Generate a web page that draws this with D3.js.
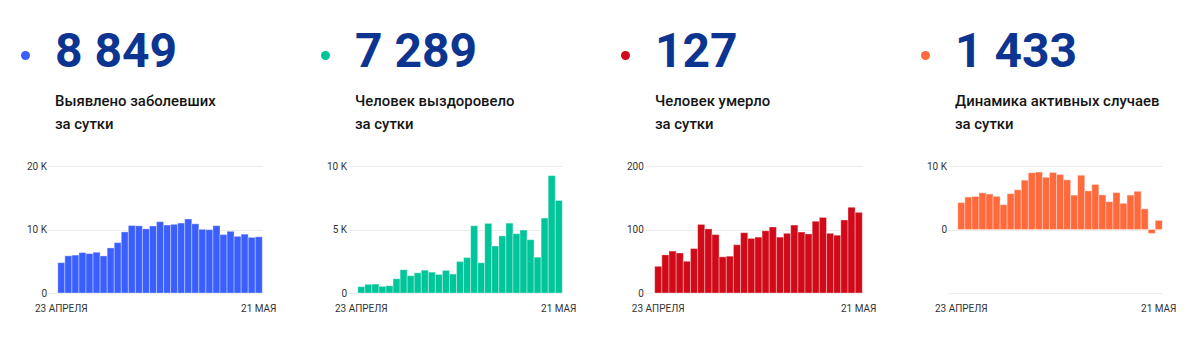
<!DOCTYPE html>
<html><head><meta charset="utf-8">
<script src="https://cdn.jsdelivr.net/npm/d3@7"></script>
<style>
html,body{margin:0;padding:0;background:#fff;}
svg{display:block;font-family:Roboto, "Noto Sans", sans-serif;}
</style></head>
<body><svg id="c" width="1200" height="340"></svg>
<script>
// ---- data ----
const days = ["23.04","24.04","25.04","26.04","27.04","28.04","29.04","30.04","01.05","02.05","03.05","04.05","05.05","06.05","07.05","08.05","09.05","10.05","11.05","12.05","13.05","14.05","15.05","16.05","17.05","18.05","19.05","20.05","21.05"];
const dateLabels = ["23 АПРЕЛЯ","21 МАЯ"];

const newCases  = [4774,5849,5966,6361,6198,6411,5841,7099,7933,9623,10633,10581,10102,10559,11231,10699,10817,11012,11656,10899,10028,9974,10598,9200,9709,8926,9263,8764,8849];
const recovered = [500,680,700,520,570,1120,1830,1360,1590,1800,1640,1460,1780,1490,2480,2790,5300,2380,5480,3700,4490,5500,4670,4960,4200,2820,5900,9240,7289];
const deaths    = [42,60,66,63,50,70,108,101,92,57,58,76,95,86,88,98,104,88,94,107,96,93,113,119,94,91,115,135,127];
const active    = [4232,5109,5200,5778,5578,5221,3903,5638,6251,7766,8935,9045,8227,8983,8663,7811,5413,8544,6082,7092,5442,4381,5815,4121,5415,6015,3248,-611,1433];

const totals = ["8 849","7 289","127","1 433"];
const titles1 = ["Выявлено заболевших","Человек выздоровело","Человек умерло","Динамика активных случаев"];
const titles2 = ["за сутки","за сутки","за сутки","за сутки"];

const yTicks1 = [0,10000,20000], yLabels1 = ["0","10 K","20 K"];
const yTicks2 = [0,5000,10000],  yLabels2 = ["0","5 K","10 K"];
const yTicks3 = [0,100,200],     yLabels3 = ["0","100","200"];
const yTicks4 = [-10000,0,10000],yLabels4 = ["","0","10 K"];

const colors = ["#3a5ffc","#00c59b","#d00a18","#ff6a3d"];

const panels = [
  {vals:newCases,  ticks:yTicks1, labels:yLabels1, dom:[0,20000]},
  {vals:recovered, ticks:yTicks2, labels:yLabels2, dom:[0,10000]},
  {vals:deaths,    ticks:yTicks3, labels:yLabels3, dom:[0,200]},
  {vals:active,    ticks:yTicks4, labels:yLabels4, dom:[-10000,10000]}
];

const svg = d3.select("#c");
const numColor = "#0b3590";

panels.forEach((p,i)=>{
  const g = svg.append("g").attr("transform",`translate(${i*300},0)`);
  g.append("circle").attr("cx",25.5).attr("cy",55.5).attr("r",4.5).attr("fill",colors[i]);
  g.append("text").attr("x",55).attr("y",66.5).attr("font-size",48).attr("font-weight",700)
    .attr("fill",numColor).text(totals[i]);
  g.append("text").attr("x",55).attr("y",106).attr("font-size",14.9).attr("font-weight",500)
    .attr("fill","#151515").text(titles1[i]);
  g.append("text").attr("x",55).attr("y",128.5).attr("font-size",14.9).attr("font-weight",500)
    .attr("fill","#151515").text(titles2[i]);

  const y = d3.scaleLinear().domain(p.dom).range([293,166]);

  // y labels
  const labs = g.append("g").selectAll("text").data(p.ticks).join("text")
    .attr("font-size",10).attr("fill","#333").attr("text-anchor","end")
    .attr("y",d=>y(d)).attr("dy","0.35em")
    .text((d,k)=>p.labels[k]);
  let maxW = 0;
  labs.each(function(){ maxW = Math.max(maxW, this.getComputedTextLength()); });
  const labRight = 27 + maxW;
  labs.attr("x", labRight);

  const gridStart = labRight + 1.5, right = 262.3;
  g.append("g").selectAll("line").data(p.ticks).join("line")
    .attr("x1",gridStart).attr("x2",right)
    .attr("y1",d=>Math.round(y(d))+0.5).attr("y2",d=>Math.round(y(d))+0.5)
    .attr("stroke","#ececec").attr("stroke-width",1);

  const x = d3.scaleBand().domain(days).range([gridStart+9.3, right]).padding(0);
  g.append("g").selectAll("rect").data(p.vals).join("rect")
    .attr("x",(d,k)=>x(days[k]))
    .attr("width",x.bandwidth())
    .attr("y",d=>y(Math.max(0,d)))
    .attr("height",d=>Math.abs(y(d)-y(0)))
    .attr("fill",colors[i])
    .attr("stroke","rgba(255,255,255,0.35)").attr("stroke-width",1);

  // date labels
  const first = days[0], last = days[days.length-1];
  g.append("text").attr("x",x(first)+x.bandwidth()/2).attr("y",312).attr("text-anchor","middle")
    .attr("font-size",10).attr("fill","#333").text(dateLabels[0]);
  g.append("text").attr("x",x(last)+x.bandwidth()/2).attr("y",312).attr("text-anchor","middle")
    .attr("font-size",10).attr("fill","#333").text(dateLabels[1]);
});
</script></body></html>
